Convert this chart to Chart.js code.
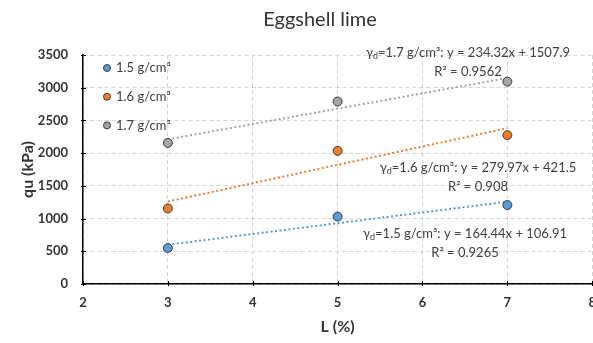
<!DOCTYPE html>
<html>
<head>
<meta charset="utf-8">
<title>Eggshell lime</title>
<script src="https://cdn.jsdelivr.net/npm/chart.js@4.4.0/dist/chart.umd.min.js"></script>
<style>
    html, body { margin: 0; padding: 0; background: #fff; overflow: hidden; }
    #wrap { width: 607px; height: 343px; }
</style>
</head>
<body>
<div id="wrap"><canvas id="limeChart"></canvas></div>
<script>
// lime content (%) and unconfined strength qu (kPa) per dry density
const limeContent = [3, 5, 7];
const densities = ['1.5 g/cm³', '1.6 g/cm³', '1.7 g/cm³'];
const qu15 = [550, 1030, 1207];
const qu16 = [1155, 2035, 2275];
const qu17 = [2156, 2789, 3093];

// linear trendlines as reported
const slopes = [164.44, 279.97, 234.32];
const intercepts = [106.91, 421.5, 1507.9];
const rSquared = [0.9265, 0.908, 0.9562];

const xTicks = [2, 3, 4, 5, 6, 7, 8];
const yTicks = [0, 500, 1000, 1500, 2000, 2500, 3000, 3500];

const colors = ['#5B9BD5', '#ED7D31', '#A5A5A5'];
const FONT = 'Lato, "Liberation Sans", sans-serif';
const TEXT = '#404040';

// where the trendline equations sit (canvas px, centre of text)
const eqPlacement = [
    { cx: 465, y: 234 },
    { cx: 478, y: 168 },
    { cx: 468, y: 53 }
];

const series = [qu15, qu16, qu17];

const datasets = [];
series.forEach((vals, i) => {
    datasets.push({
        label: densities[i],
        data: limeContent.map((x, k) => ({ x: x, y: vals[k] })),
        showLine: false,
        pointRadius: 4.5,
        pointBackgroundColor: colors[i],
        pointBorderColor: '#3a3a3a',
        pointBorderWidth: 1,
        order: 1
    });
});
series.forEach((vals, i) => {
    const x0 = limeContent[0], x1 = limeContent[limeContent.length - 1];
    datasets.push({
        label: 'trend ' + densities[i],
        data: [
            { x: x0, y: slopes[i] * x0 + intercepts[i] },
            { x: x1, y: slopes[i] * x1 + intercepts[i] }
        ],
        showLine: true,
        borderColor: colors[i],
        borderWidth: 2,
        borderDash: [2, 2.5],
        pointRadius: 0,
        order: 2
    });
});

// text with a subscript "d" after the gamma
function drawEquation(ctx, rest, cx, y) {
    ctx.font = '13px ' + FONT;
    const wG = ctx.measureText('γ').width;
    const wRest = ctx.measureText(rest).width;
    ctx.font = '9px ' + FONT;
    const wD = ctx.measureText('d').width;
    const total = wG + wD + wRest;
    let x = cx - total / 2;
    ctx.textAlign = 'left';
    ctx.textBaseline = 'middle';
    ctx.font = '13px ' + FONT;
    ctx.fillText('γ', x, y);
    x += wG;
    ctx.font = '9px ' + FONT;
    ctx.fillText('d', x, y + 3);
    x += wD;
    ctx.font = '13px ' + FONT;
    ctx.fillText(rest, x, y);
}

const extras = {
    id: 'extras',
    afterDraw(chart) {
        const ctx = chart.ctx;
        const area = chart.chartArea;
        const xs = chart.scales.x, ys = chart.scales.y;
        ctx.save();

        // title
        ctx.fillStyle = '#333';
        ctx.font = '20px ' + FONT;
        ctx.textAlign = 'center';
        ctx.textBaseline = 'middle';
        ctx.fillText('Eggshell lime', 320, 20);

        // short tick marks crossing the axes
        ctx.strokeStyle = '#000';
        ctx.lineWidth = 1;
        ctx.beginPath();
        yTicks.forEach(v => {
            const py = Math.round(ys.getPixelForValue(v)) + 0.5;
            ctx.moveTo(area.left - 2, py);
            ctx.lineTo(area.left + 3, py);
        });
        xTicks.forEach(v => {
            const px = Math.round(xs.getPixelForValue(v)) + 0.5;
            ctx.moveTo(px, area.bottom + 2);
            ctx.lineTo(px, area.bottom - 3);
        });
        ctx.stroke();

        // legend in the upper-left of the plot
        densities.forEach((name, i) => {
            const ly = 68 + i * 28.7;
            ctx.beginPath();
            ctx.arc(107, ly, 3.5, 0, Math.PI * 2);
            ctx.fillStyle = colors[i];
            ctx.fill();
            ctx.strokeStyle = '#3a3a3a';
            ctx.lineWidth = 1;
            ctx.stroke();
            ctx.fillStyle = TEXT;
            ctx.font = '13px ' + FONT;
            ctx.textAlign = 'left';
            ctx.textBaseline = 'middle';
            ctx.fillText(name, 116, ly);
        });

        // trendline equations
        ctx.fillStyle = TEXT;
        eqPlacement.forEach((p, i) => {
            const rest = '=' + densities[i] + ': y = ' + slopes[i] + 'x + ' + intercepts[i];
            drawEquation(ctx, rest, p.cx, p.y);
            ctx.font = '13px ' + FONT;
            ctx.textAlign = 'center';
            ctx.fillText('R² = ' + rSquared[i], p.cx, p.y + 19);
        });

        ctx.restore();
    }
};

const ctx = document.getElementById('limeChart').getContext('2d');
new Chart(ctx, {
    type: 'scatter',
    data: { datasets: datasets },
    options: {
        responsive: true,
        maintainAspectRatio: false,
        animation: false,
        layout: { padding: { top: 55, right: 0, bottom: 0, left: 0 } },
        plugins: {
            legend: { display: false },
            tooltip: { enabled: false }
        },
        scales: {
            x: {
                type: 'linear',
                min: 2,
                max: 8,
                afterBuildTicks: s => { s.ticks = xTicks.map(v => ({ value: v })); },
                afterFit: s => { s.height = 59; },
                grid: { color: '#d4d4d4', drawTicks: false },
                border: { color: '#000', width: 1.5, dash: [4, 3] },
                ticks: {
                    padding: 11,
                    color: '#333',
                    callback: v => String(v),
                    font: { family: FONT, size: 13, weight: 'bold' }
                },
                title: {
                    display: true,
                    text: 'L (%)',
                    color: '#333',
                    padding: { top: 2, bottom: 7 },
                    font: { family: FONT, size: 16, weight: 'bold' }
                }
            },
            y: {
                min: 0,
                max: 3500,
                afterBuildTicks: s => { s.ticks = yTicks.map(v => ({ value: v })); },
                afterFit: s => { s.width = 83; },
                grid: { color: '#d4d4d4', drawTicks: false },
                border: { color: '#000', width: 1.5, dash: [4, 3] },
                ticks: {
                    padding: 15,
                    color: '#333',
                    callback: v => String(v),
                    font: { family: FONT, size: 13, weight: 'bold' }
                },
                title: {
                    display: true,
                    text: 'qu (kPa)',
                    color: '#333',
                    padding: { top: 18, bottom: 4 },
                    font: { family: FONT, size: 16, weight: 'bold' }
                }
            }
        }
    },
    plugins: [extras]
});
</script>
</body>
</html>
